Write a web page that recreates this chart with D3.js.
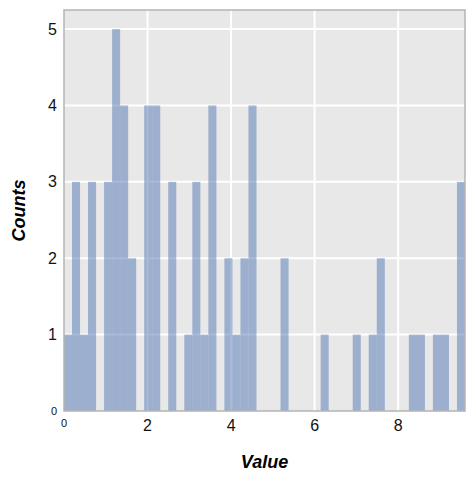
<!DOCTYPE html>
<html>
<head>
<meta charset="utf-8">
<script src="https://cdn.jsdelivr.net/npm/d3@7"></script>
<style>
  body { margin: 0; background: #fff; }
  text { font-family: "Liberation Sans", Arial, sans-serif; }
</style>
</head>
<body>
<div id="chart"></div>
<script>
// histogram: 50 equal bins over [0, 9.6]
var xMax = 9.6;
var binCount = 50;
var counts = [
  1, 3, 1, 3, 0, 3, 5, 4, 2, 0,
  4, 4, 0, 3, 0, 1, 3, 1, 4, 0,
  2, 1, 2, 4, 0, 0, 0, 2, 0, 0,
  0, 0, 1, 0, 0, 0, 1, 0, 1, 2,
  0, 0, 0, 1, 1, 0, 1, 1, 0, 3
];
var xTicks = [0, 2, 4, 6, 8];
var yTicks = [0, 1, 2, 3, 4, 5];

var width = 475, height = 482;
var margin = {top: 10, right: 10, bottom: 71, left: 64};

var svg = d3.select("#chart").append("svg")
    .attr("width", width)
    .attr("height", height);

var x = d3.scaleLinear().domain([0, xMax]).range([margin.left, width - margin.right]);
var y = d3.scaleLinear().domain([0, 5.25]).range([height - margin.bottom, margin.top]);

var binW = xMax / binCount;
var bins = counts.map(function(c, i) {
    return {x0: i * binW, x1: (i + 1) * binW, count: c};
});

// panel background
svg.append("rect")
    .attr("x", x(0))
    .attr("y", y(5.25))
    .attr("width", x(xMax) - x(0))
    .attr("height", y(0) - y(5.25))
    .style("fill", "#e8e8e8");

// grid
svg.append("g").selectAll("line")
    .data(xTicks.filter(function(d) { return d > 0; }))
    .enter().append("line")
    .attr("x1", function(d) { return x(d); })
    .attr("x2", function(d) { return x(d); })
    .attr("y1", y(5.25))
    .attr("y2", y(0))
    .style("stroke", "white")
    .style("stroke-width", 2);

svg.append("g").selectAll("line")
    .data(yTicks.filter(function(d) { return d > 0; }))
    .enter().append("line")
    .attr("x1", x(0) - 3)
    .attr("x2", x(xMax))
    .attr("y1", function(d) { return y(d); })
    .attr("y2", function(d) { return y(d); })
    .style("stroke", "white")
    .style("stroke-width", 2);

// bars
svg.append("g").selectAll("rect")
    .data(bins)
    .enter().append("rect")
    .attr("x", function(d) { return x(d.x0); })
    .attr("width", function(d) { return x(d.x1) - x(d.x0); })
    .attr("y", function(d) { return y(d.count); })
    .attr("height", function(d) { return y(0) - y(d.count); })
    .style("fill", "#4f76b3")
    .style("fill-opacity", 0.5);

// panel border
svg.append("rect")
    .attr("x", x(0))
    .attr("y", y(5.25))
    .attr("width", x(xMax) - x(0))
    .attr("height", y(0) - y(5.25))
    .style("fill", "none")
    .style("stroke", "#b4b4b4")
    .style("stroke-width", 1.5);

// tick labels
svg.append("g").selectAll("text")
    .data(xTicks)
    .enter().append("text")
    .attr("x", function(d) { return x(d); })
    .attr("y", function(d) { return d === 0 ? y(0) + 16 : y(0) + 20; })
    .attr("text-anchor", "middle")
    .style("font-size", function(d) { return d === 0 ? "11px" : "16px"; })
    .style("fill", "#111")
    .text(function(d) { return d; });

svg.append("g").selectAll("text")
    .data(yTicks)
    .enter().append("text")
    .attr("x", x(0) - 7)
    .attr("y", function(d) { return y(d); })
    .attr("dy", "0.35em")
    .attr("text-anchor", "end")
    .style("font-size", function(d) { return d === 0 ? "11px" : "16px"; })
    .style("fill", "#111")
    .text(function(d) { return d; });

// axis titles
svg.append("text")
    .attr("x", (x(0) + x(xMax)) / 2)
    .attr("y", 468)
    .attr("text-anchor", "middle")
    .style("font-size", "18px")
    .style("font-weight", "bold")
    .style("font-style", "italic")
    .text("Value");

svg.append("text")
    .attr("transform", "translate(25," + ((y(0) + y(5.25)) / 2) + ") rotate(-90)")
    .attr("text-anchor", "middle")
    .style("font-size", "18px")
    .style("font-weight", "bold")
    .style("font-style", "italic")
    .text("Counts");
</script>
</body>
</html>
